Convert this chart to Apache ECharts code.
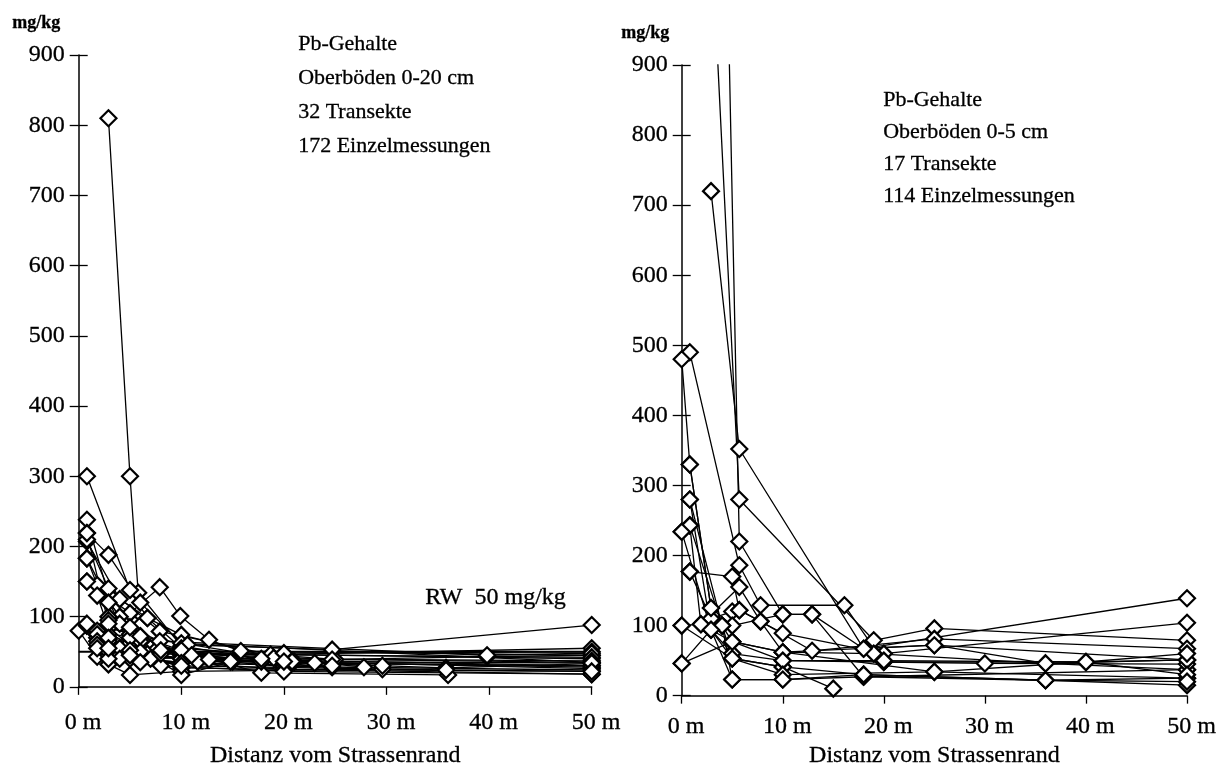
<!DOCTYPE html>
<html>
<head>
<meta charset="utf-8">
<title>Pb-Gehalte</title>
<script src="https://cdn.jsdelivr.net/npm/echarts@6/dist/echarts.min.js"></script>
<style>
  html, body { margin: 0; padding: 0; background: #fff; }
  #chart { width: 1219px; height: 773px; }
</style>
</head>
<body>
<div id="chart"></div>
<script>
// Axis ranges and labels
const yTicks = [0, 100, 200, 300, 400, 500, 600, 700, 800, 900];
const xTicks = [0, 10, 20, 30, 40, 50];
const xUnit = ' m';
const axisName = 'Distanz vom Strassenrand';
const unitLabel = 'mg/kg';
const rwValue = 50;
const rwText = 'RW  50 mg/kg';

const leftInfo = ['Pb-Gehalte', 'Oberböden 0-20 cm', '32 Transekte', '172 Einzelmessungen'];
const rightInfo = ['Pb-Gehalte', 'Oberböden 0-5 cm', '17 Transekte', '114 Einzelmessungen'];

// Topsoil 0-20 cm: one list of [distance m, Pb mg/kg] per transect
const leftTransects = [
  [[2.9, 810], [5, 300], [5.8, 134], [10, 58], [20, 35], [50, 28]],
  [[0.8, 300], [5, 138], [6.7, 98], [10, 74], [20, 38], [50, 30]],
  [[0.8, 238], [2.9, 131], [5, 96], [7.7, 55], [20, 29]],
  [[0.8, 219], [2.9, 188], [6, 120], [10, 62], [50, 35]],
  [[0.8, 207], [4, 125], [6.7, 98], [10, 55], [25, 39]],
  [[0.8, 150], [5, 105], [7.9, 142], [9.9, 101], [12.7, 67], [15.8, 51], [50, 45]],
  [[0.8, 183], [1.8, 145], [4, 100], [6, 72], [21, 36], [50, 26]],
  [[0.8, 87], [1.8, 74], [2.9, 55], [5, 57], [10, 27], [50, 18]],
  [[0, 80], [1.8, 43], [2.9, 32], [5, 17], [10, 22], [29.6, 25]],
  [[0.8, 87], [2.9, 84], [6, 72], [10.6, 60], [24.7, 53], [50, 88]],
  [[2.9, 60], [7, 55], [11.6, 36], [17.8, 36], [35.8, 27], [50, 33]],
  [[0.8, 210], [2.9, 140], [7.9, 79], [18.7, 46], [50, 55]],
  [[1.8, 130], [2.9, 84], [5, 60], [10, 50], [17.8, 20], [36, 17]],
  [[1.8, 70], [2.9, 45], [10, 35], [39.8, 43], [50, 45]],
  [[2.9, 75], [5, 62], [6.7, 47], [10, 17], [15, 36]],
  [[2.9, 100], [5, 70], [12.7, 39], [19, 41], [27.8, 28]],
  [[0.8, 183], [4, 90], [6, 65], [14.8, 36], [23, 34], [50, 30]],
  [[2.9, 60], [4, 48], [7, 40], [20, 48], [50, 50]],
  [[2.9, 95], [5, 75], [7.7, 55], [10, 45], [24.7, 28]],
  [[1.8, 80], [5, 70], [10, 48], [50, 40]],
  [[2.9, 70], [5, 50], [10, 40], [17.8, 36], [29.6, 30]],
  [[0.8, 90], [2.9, 65], [5, 48], [20, 29], [50, 24]],
  [[2.9, 50], [4, 45], [5, 40], [20, 25], [50, 22]],
  [[1.8, 75], [4, 55], [6, 50], [24.7, 39], [50, 35]],
  [[4, 40], [6, 35], [8, 30], [20, 22], [50, 18]],
  [[0.8, 150], [2.9, 120], [5, 85], [7.9, 65], [39.8, 45], [50, 48]],
  [[1.8, 65], [5, 45], [10, 40], [20.8, 36]],
  [[1.8, 60], [5, 52], [8, 47], [50, 42]],
  [[0.8, 219], [2.9, 90], [6, 72], [10, 52], [17.8, 40], [50, 37]],
  [[1.8, 55], [2.9, 40], [10, 34], [24.7, 30]],
  [[2.9, 70], [8, 52], [11, 45], [20, 36], [50, 34]],
  [[2.9, 55], [5, 45], [10, 30], [35.8, 24], [50, 22]]
];

// Topsoil 0-5 cm: one list of [distance m, Pb mg/kg] per transect
const rightTransects = [
  [[2.9, 720], [5.7, 352], [18, 67], [25, 72], [36, 46], [50, 51]],
  [[2.9, 1100], [5.7, 280], [19, 79], [25, 96], [50, 79]],
  [[4, 1400], [5.7, 220], [10, 116], [12.9, 116], [18, 27], [50, 37]],
  [[0.8, 490], [5.7, 186], [7.8, 129], [16.1, 129], [20, 48], [40, 48], [50, 51]],
  [[0, 480], [0.8, 330], [2.9, 125], [5, 77], [10, 62], [25, 34], [50, 25]],
  [[0.8, 280], [2.9, 94], [5, 53], [10, 41], [18, 30], [36, 22], [50, 15]],
  [[0, 234], [0.8, 243], [1.9, 102], [5.7, 155], [7.8, 106], [12.9, 64], [25, 81], [50, 67]],
  [[0.8, 177], [2.9, 110], [5, 120], [5.7, 122], [10, 89], [20, 60], [50, 104]],
  [[0, 100], [5, 53], [10, 41], [15, 10]],
  [[0, 46], [5, 77], [10, 62], [19, 60], [36, 46], [50, 37]],
  [[0.8, 330], [2.9, 125], [5, 100], [10, 116], [12.9, 116], [18, 67], [50, 139]],
  [[0.8, 243], [4, 100], [5, 23], [10, 23], [18, 27], [36, 22], [50, 25]],
  [[0, 234], [2.9, 94], [5, 60], [10, 50], [20, 48], [30, 46], [50, 45]],
  [[0.8, 177], [5, 170], [5.7, 122], [7.8, 106], [10, 62], [25, 72], [50, 51]],
  [[0, 100], [1.9, 102], [5, 77], [10, 50], [20, 50], [40, 48], [50, 60]],
  [[0.8, 280], [4, 100], [5, 53], [10, 30], [25, 34], [40, 48], [50, 30]],
  [[0, 46], [2.9, 94], [5, 23], [10, 23], [18, 30], [36, 22], [50, 20]]
];

const serif = '"Liberation Serif", "Times New Roman", serif';
const ink = { textBorderColor: '#000', textBorderWidth: 0.3 };
const chart = echarts.init(document.getElementById('chart'), null, { renderer: 'canvas' });

const grids = [
  { left: 78.7, top: 55, width: 513, height: 635 },
  { left: 681.7, top: 65, width: 510.6, height: 634 }
];

function xAxisFor(idx, labelMargin, nameGap) {
  return {
    type: 'value', gridIndex: idx,
    min: xTicks[0], max: xTicks[xTicks.length - 1], interval: xTicks[1] - xTicks[0],
    name: axisName, nameLocation: 'middle', nameGap: nameGap,
    nameTextStyle: Object.assign({ fontFamily: serif, fontSize: 24, color: '#000' }, ink),
    axisLine: { show: true, onZero: false, lineStyle: { color: '#000', width: 1.5 } },
    axisTick: { show: true, inside: false, length: 8, lineStyle: { color: '#000', width: 1.3 } },
    axisLabel: Object.assign({
      show: true, margin: labelMargin, color: '#000', fontFamily: serif, fontSize: 24,
      padding: [0, 0, 0, 9],
      formatter: v => v + xUnit
    }, ink),
    splitLine: { show: false }
  };
}

function yAxisFor(idx, inside) {
  return {
    type: 'value', gridIndex: idx, position: 'left',
    min: yTicks[0], max: yTicks[yTicks.length - 1], interval: yTicks[1] - yTicks[0],
    axisLine: { show: !inside, onZero: false, lineStyle: { color: '#000', width: 1.5 } },
    axisTick: { show: true, inside: inside, length: 9, lineStyle: { color: '#000', width: 1.3 } },
    axisLabel: Object.assign({
      show: !inside, margin: 14, color: '#000', fontFamily: serif, fontSize: 24
    }, ink),
    splitLine: { show: false }
  };
}

function transectSeries(list, axisIdx) {
  return list.map((pts, i) => ({
    type: 'line',
    name: (axisIdx === 0 ? 'L' : 'R') + (i + 1),
    xAxisIndex: axisIdx, yAxisIndex: axisIdx,
    data: pts,
    clip: true,
    symbol: 'diamond', symbolSize: 16, showAllSymbol: true,
    lineStyle: { color: '#000', width: 1.3 },
    itemStyle: { color: '#fff', borderColor: '#000', borderWidth: 2.2 },
    emphasis: { disabled: true },
    silent: true,
    z: 3
  }));
}

const series = [
  // reference level (Richtwert) across the left panel
  {
    type: 'line', name: 'RW', xAxisIndex: 0, yAxisIndex: 0,
    data: [[xTicks[0], rwValue], [xTicks[xTicks.length - 1], rwValue]],
    symbol: 'none', lineStyle: { color: '#000', width: 2 }, silent: true, z: 2
  },
  ...transectSeries(leftTransects, 0),
  ...transectSeries(rightTransects, 1)
];

function textStyle(text, font) {
  return { text: text, font: font, fill: '#000', stroke: '#000', lineWidth: 0.3 };
}

function textBlock(lines, x, y0, step) {
  return lines.map((t, i) => ({
    type: 'text', left: x, top: y0 + i * step - 12,
    style: textStyle(t, '22px ' + serif)
  }));
}

const graphic = [
  ...textBlock(leftInfo, 298, 45, 34),
  ...textBlock(rightInfo, 883, 101, 32),
  { type: 'text', left: 12, top: 14, style: textStyle(unitLabel, 'bold 18px ' + serif) },
  { type: 'text', left: 621, top: 24, style: textStyle(unitLabel, 'bold 18px ' + serif) },
  { type: 'text', left: 425, top: 586, style: textStyle(rwText, '24px ' + serif) }
];

chart.setOption({
  animation: false,
  backgroundColor: '#fff',
  grid: grids,
  xAxis: [xAxisFor(0, 24, 57), xAxisFor(1, 19, 48)],
  yAxis: [yAxisFor(0, false), yAxisFor(1, false), yAxisFor(0, true), yAxisFor(1, true)],
  series: series,
  graphic: graphic
});
</script>
</body>
</html>
